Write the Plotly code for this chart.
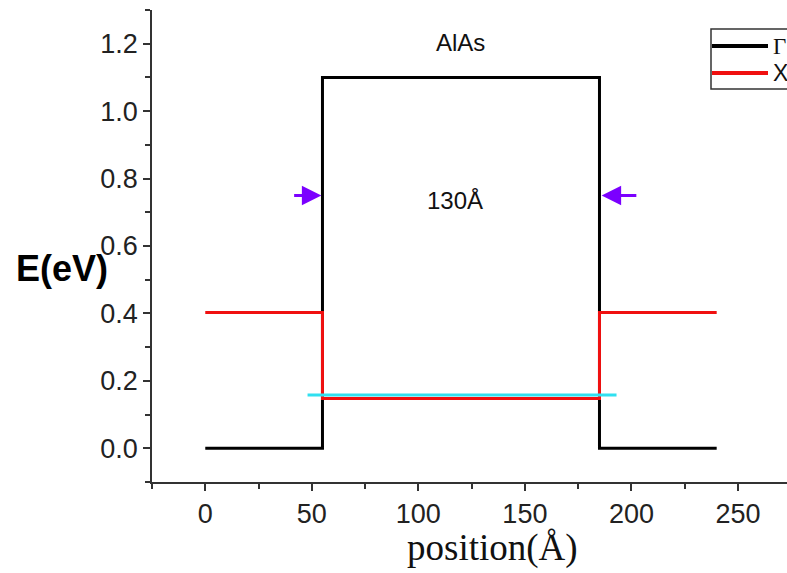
import plotly.graph_objects as go

# Band-edge profile across an AlAs barrier (position in Å, energy in eV)
gamma_x = [0, 55, 55, 185, 185, 240]
gamma_e = [0.0, 0.0, 1.10, 1.10, 0.0, 0.0]

xband_x = [0, 55, 55, 185, 185, 240]
xband_e = [0.403, 0.403, 0.148, 0.148, 0.403, 0.403]

level_x = [48, 193]
level_e = [0.158, 0.158]

arrow_y = 0.75
left_arrow = (41, 54.5)    # tail, head
right_arrow = (203, 186)

W, H = 787, 573
ML, MT, MB, MR = 152, 10, 91, 0
PW, PH = W - ML - MR, H - MT - MB


def px(x):
    return (x - ML) / PW


def py(y):
    return (H - MB - y) / PH


fig = go.Figure()
fig.add_trace(go.Scatter(x=gamma_x, y=gamma_e, mode="lines", name="Γ",
                         line=dict(color="#000000", width=3), showlegend=False))
fig.add_trace(go.Scatter(x=xband_x, y=xband_e, mode="lines", name="X",
                         line=dict(color="#f01010", width=3), showlegend=False))
fig.add_trace(go.Scatter(x=level_x, y=level_e, mode="lines", name="E1",
                         line=dict(color="#30e0f0", width=3), showlegend=False))

for tail, head in (left_arrow, right_arrow):
    fig.add_annotation(x=head, y=arrow_y, ax=tail, ay=arrow_y,
                       xref="x", yref="y", axref="x", ayref="y",
                       text="", showarrow=True, arrowhead=2, arrowsize=1.3,
                       arrowwidth=3, arrowcolor="#7b00ff", standoff=0)

fig.add_annotation(x=120, y=1.205, xref="x", yref="y", text="AlAs", showarrow=False,
                   font=dict(family="Liberation Sans, Arial", size=24, color="#111111"))
fig.add_annotation(x=117, y=0.735, xref="x", yref="y", text="130Å", showarrow=False,
                   font=dict(family="Liberation Sans, Arial", size=24, color="#111111"))

# Y-axis title, horizontal and bold
fig.add_annotation(x=px(62), y=py(268), xref="paper", yref="paper", text="<b>E(eV)</b>",
                   showarrow=False, xanchor="center", yanchor="middle",
                   font=dict(family="Liberation Sans, Arial", size=36, color="#000000"))
# X-axis title
fig.add_annotation(x=px(492), y=py(548), xref="paper", yref="paper", text="position(Å)",
                   showarrow=False, xanchor="center", yanchor="middle",
                   font=dict(family="Liberation Serif, Times New Roman", size=37, color="#111111"))

# Legend box
fig.add_shape(type="rect", xref="paper", yref="paper",
              x0=px(711), x1=px(800), y0=py(89), y1=py(29),
              line=dict(color="#333333", width=1.5), fillcolor="white", layer="above")
for name, color, yy, fam in (("Γ", "#000000", 46, "Liberation Serif, Times New Roman"),
                             ("X", "#f01010", 73, "Liberation Sans, Arial")):
    fig.add_shape(type="line", xref="paper", yref="paper",
                  x0=px(712), x1=px(768), y0=py(yy), y1=py(yy),
                  line=dict(color=color, width=4), layer="above")
    fig.add_annotation(x=px(771), y=py(yy), xref="paper", yref="paper", text=name,
                       showarrow=False, xanchor="left", yanchor="middle",
                       font=dict(family=fam, size=23, color="#111111"))

axis_font = dict(family="Liberation Sans, Arial", size=27, color="#222222")
fig.update_xaxes(range=[-25, 273], tickvals=[0, 50, 100, 150, 200, 250],
                 ticks="outside", ticklen=7, tickwidth=1.5, tickcolor="#333333",
                 minor=dict(tickvals=[-25, 25, 75, 125, 175, 225, 275], ticks="outside",
                            ticklen=5, tickwidth=1.5, tickcolor="#333333"),
                 showline=True, linecolor="#333333", linewidth=1.5,
                 showgrid=False, zeroline=False, tickfont=axis_font)
fig.update_yaxes(range=[-0.1, 1.3], tickvals=[0.0, 0.2, 0.4, 0.6, 0.8, 1.0, 1.2],
                 tickformat=".1f",
                 ticks="outside", ticklen=7, tickwidth=1.5, tickcolor="#333333",
                 minor=dict(tickvals=[-0.1, 0.1, 0.3, 0.5, 0.7, 0.9, 1.1, 1.3],
                            ticks="outside", ticklen=5, tickwidth=1.5, tickcolor="#333333"),
                 showline=True, linecolor="#333333", linewidth=1.5,
                 showgrid=False, zeroline=False, tickfont=axis_font)

fig.update_layout(width=W, height=H, margin=dict(l=ML, r=MR, t=MT, b=MB),
                  plot_bgcolor="white", paper_bgcolor="white", showlegend=False)

fig.write_html("out.html")
